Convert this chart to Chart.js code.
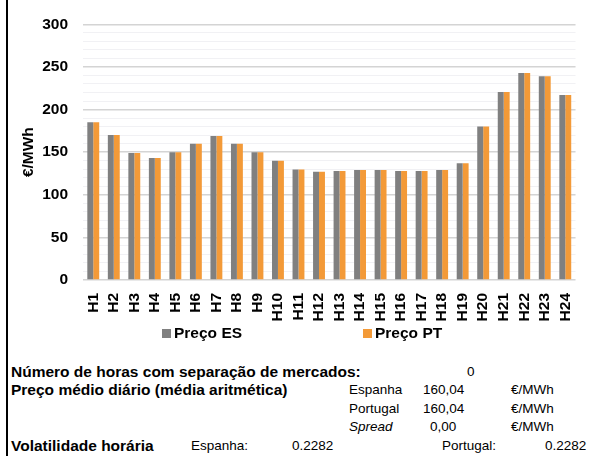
<!DOCTYPE html>
<html>
<head>
<meta charset="utf-8">
<script src="https://cdn.jsdelivr.net/npm/chart.js@4"></script>
<style>
  body { margin: 0; background: #fff; }
  #wrap { position: relative; width: 589px; height: 456px; overflow: hidden; font-family: "Liberation Sans", Arial, sans-serif; font-size: 13.5px; color: #000; }
  #chartBox { position: absolute; left: 0; top: 0; width: 589px; height: 325px; }
  .frame { position: absolute; left: 6px; top: 0; width: 2px; height: 456px; background: #000; }
  .t { position: absolute; line-height: 18px; white-space: nowrap; }
  .b { font-weight: bold; font-size: 15.5px; }
  .i { font-style: italic; }
  .leg { position: absolute; top: 324px; font-weight: bold; font-size: 15.5px; line-height: 18px; white-space: nowrap; }
  .leg i { display: inline-block; width: 9px; height: 9px; margin-right: 3px; vertical-align: 0px; }
</style>
</head>
<body>
<div id="wrap">
  <div id="chartBox"><canvas id="priceChart" width="589" height="325"></canvas></div>
  <div class="frame"></div>

  <div class="leg" style="left:162px"><i style="background:#808080"></i>Preço ES</div>
  <div class="leg" style="left:363px"><i style="background:#f39a38"></i>Preço PT</div>

  <div class="t b" style="left:11px; top:363px">Número de horas com separação de mercados:</div>
  <div class="t" style="left:467px; top:363px">0</div>

  <div class="t b" style="left:11px; top:381px">Preço médio diário (média aritmética)</div>
  <div class="t" style="left:349px; top:381px">Espanha</div>
  <div class="t" style="left:423px; top:381px">160,04</div>
  <div class="t" style="left:511px; top:381px">€/MWh</div>

  <div class="t" style="left:349px; top:400px">Portugal</div>
  <div class="t" style="left:423px; top:400px">160,04</div>
  <div class="t" style="left:511px; top:400px">€/MWh</div>

  <div class="t i" style="left:349px; top:418px">Spread</div>
  <div class="t" style="left:430px; top:418px">0,00</div>
  <div class="t" style="left:511px; top:418px">€/MWh</div>

  <div class="t b" style="left:11px; top:437px">Volatilidade horária</div>
  <div class="t" style="left:191px; top:437px">Espanha:</div>
  <div class="t" style="left:292px; top:437px">0.2282</div>
  <div class="t" style="left:442px; top:437px">Portugal:</div>
  <div class="t" style="left:545px; top:437px">0.2282</div>
</div>

<script>
var hours = ['H1', 'H2', 'H3', 'H4', 'H5', 'H6', 'H7', 'H8', 'H9', 'H10', 'H11', 'H12',
  'H13', 'H14', 'H15', 'H16', 'H17', 'H18', 'H19', 'H20', 'H21', 'H22', 'H23', 'H24'];

var precoES = [185, 170, 149, 143, 150, 160, 169, 160, 150, 140, 129.5, 127,
  128, 129, 129, 128, 128, 129, 137, 180, 220.5, 243, 239, 217];

var precoPT = [185, 170, 149, 143, 150, 160, 169, 160, 150, 140, 129.5, 127,
  128, 129, 129, 128, 128, 129, 137, 180, 220.5, 243, 239, 217];

var yTicks = [0, 10, 20, 30, 40, 50, 60, 70, 80, 90, 100, 110, 120, 130, 140, 150,
  160, 170, 180, 190, 200, 210, 220, 230, 240, 250, 260, 270, 280, 290, 300];

Chart.defaults.font.family = '"Liberation Sans", Arial, sans-serif';
Chart.defaults.color = '#000';

var boldFont = { size: 15.5, weight: 'bold' };

function buildDataset(data, color, label) {
  return {
    label: label,
    data: data,
    backgroundColor: color,
    borderWidth: 0,
    categoryPercentage: 0.58,
    barPercentage: 1.0
  }
}

new Chart(document.getElementById('priceChart'), {
  type: 'bar',
  data: {
    labels: hours,
    datasets: [
      buildDataset(precoES, '#808080', 'Preço ES'),
      buildDataset(precoPT, '#f39a38', 'Preço PT')
    ]
  },
  options: {
    responsive: false,
    animation: false,
    layout: { padding: { top: 23, right: 6, left: 0, bottom: 0 } },
    plugins: {
      legend: { display: false },
      tooltip: { enabled: false }
    },
    scales: {
      x: {
        grid: { display: false },
        border: { display: false },
        ticks: { font: boldFont, minRotation: 90, maxRotation: 90, autoSkip: false, padding: 5 },
        afterFit: function (scale) { scale.height = 45; }
      },
      y: {
        min: 0,
        max: 300,
        border: { display: false },
        afterBuildTicks: function (scale) {
          scale.ticks = yTicks.map(function (v) { return { value: v }; });
        },
        afterFit: function (scale) { scale.width = 83; },
        ticks: {
          autoSkip: false,
          font: boldFont,
          padding: 15,
          callback: function (v) { return v % 50 === 0 ? v : ''; }
        },
        grid: {
          drawTicks: false,
          color: function (ctx) { return ctx.tick && ctx.tick.value % 50 === 0 ? '#d4d4d4' : '#f1f1f4'; },
          lineWidth: function (ctx) { return ctx.tick && ctx.tick.value % 50 === 0 ? 1.5 : 1; }
        },
        title: {
          display: true,
          text: '€/MWh',
          font: boldFont,
          padding: { top: 19, bottom: 0 }
        }
      }
    }
  }
});
</script>
</body>
</html>
